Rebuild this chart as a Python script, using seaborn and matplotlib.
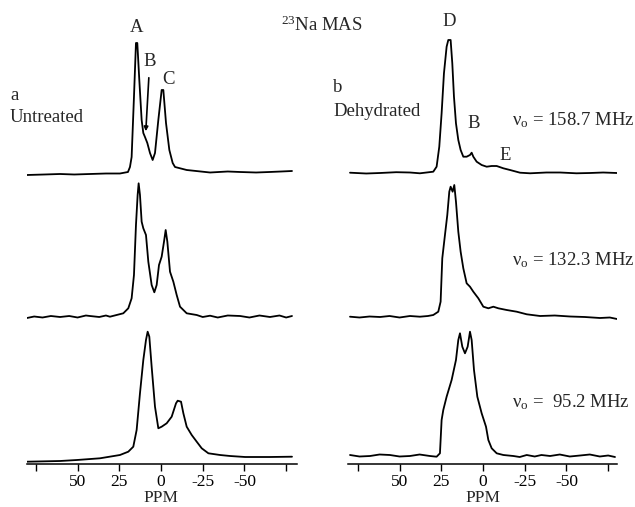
import matplotlib
matplotlib.use("Agg")
import matplotlib.pyplot as plt
import seaborn as sns
import pandas as pd

# ---------------- data (ppm, intensity above own baseline) ----------------
# Panel a (Untreated)
a158_ppm = [80.3, 70, 60.5, 52, 42.6, 33, 24.6, 19.8, 18.6, 17.6, 16.2, 15.0, 14.2, 13.0, 11.6, 10.6,
            9.6, 8.2, 6.6, 5.0, 3.6, 1.6, -0.4, -1.4, -3.0, -5.0, -7.0, -8.4, -15.4, -29.4, -40,
            -47.4, -57, -65, -72, -78.5]
a158_int = [-2, -1.5, -1, -1.5, -1, -0.5, -0.5, 1, 6, 16, 76, 130, 130, 93, 53, 40,
            36, 30, 20, 13, 20, 53, 83, 83, 50, 23, 10, 6, 3, 0.5, 1.5,
            1, 0.5, 1, 1.5, 2]

a132_ppm = [80.3, 76, 71, 66, 60.5, 55, 50, 45, 42.6, 37, 33, 30.6, 22.6, 19.6, 17.6, 16.2, 15.0, 14.0,
            13.4, 12.6, 11.6, 10.6, 9.0, 7.6, 5.6, 4.0, 2.6, 1.2, -0.4, -1.8, -2.8, -3.8, -5.4,
            -7.4, -9.4, -11.4, -15.4, -21.4, -25, -29.4, -34, -40, -47.4, -53, -59, -65.3, -71, -75, -78.5]
a132_int = [-1, 0.5, -0.5, 1, 0, 1, -0.5, 1.5, 1, 0, 1.5, 0.3, 3.7, 8.7, 18.7, 42, 92, 122,
            133.7, 122, 95.3, 88.7, 82, 55.3, 32, 24.7, 32, 52, 60.3, 75.3, 87, 75.3, 45.3,
            35.3, 22, 10.3, 3.7, 2, 0, 1.3, -0.5, 1.5, 1, -0.5, 1.5, 0, 1.5, -0.5, 1]

a95_ppm = [80.3, 60.5, 50.4, 36.6, 24.6, 19.6, 16.6, 14.6, 12.6, 10.6, 9.0, 8.0, 7.0, 5.6, 3.6,
           1.6, -0.4, -3.4, -6.4, -9.0, -10.0, -12.0, -13.4, -15.4, -18.4, -21.4, -24.4, -28.4,
           -35.4, -41.4, -50.4, -65.3, -78.5]
a95_int = [0.3, 1, 2, 3.7, 7, 10.3, 15.3, 32, 68.7, 102, 122, 130.3, 125.3, 95.3, 55.3,
           33.7, 35.3, 38.7, 45.3, 58.7, 61.3, 60.3, 48.7, 35.3, 27, 20.3, 13.7, 8.7,
           7, 6, 5, 5, 5.3]

# Panel b (Dehydrated)
b158_ppm = [79.7, 70, 61.7, 52, 43.8, 37.8, 29.8, 27.8, 26.2, 24.8, 23.4, 21.8, 20.8, 19.4, 18.4,
            17.4, 16.2, 14.8, 13.4, 11.8, 9.8, 7.8, 6.8, 5.8, 3.8, 0.8, -2.2, -5.2, -8.2, -12.2,
            -16.2, -22.2, -28.2, -38, -46.2, -56, -64.1, -72, -80.3]
b158_int = [0.3, -0.5, 0, 0.8, 0.5, -0.3, 1.3, 6.3, 26.3, 59.7, 99.7, 126.3, 133, 133, 109.7,
            76.3, 49.7, 33, 23, 16.3, 16.3, 18, 20.3, 16.3, 11.3, 8, 6.3, 7, 7, 4.7,
            3, 0.3, -0.3, 0.5, 0.5, -0.3, 0, 0.5, 0]

b132_ppm = [79.7, 74, 68, 61.7, 56, 50, 43.8, 37.8, 33, 29.8, 26.8, 25.4, 24.4, 22.8, 21.4, 20.2,
            19.4, 18.2, 17.2, 16.2, 14.8, 13.4, 11.8, 9.8, 7.8, 5.8, 2.8, -0.2, -3.2, -6.2,
            -9.2, -14.2, -20.2, -26.2, -34.2, -43, -52.2, -61, -70.1, -76, -80.3]
b132_int = [0.3, -0.5, 0.5, 0, 1, -0.5, 1, 0.3, 1, 2, 5.3, 15.3, 58.7, 82, 102, 125.3,
            130.3, 125.3, 132, 115.3, 85.3, 65.3, 48.7, 33.7, 30.3, 25.3, 18.7, 10.3, 8.7, 10.3,
            8.7, 7, 5.3, 2.7, 1, 1.5, 0.5, 0, -1, -0.5, -2]

b95_ppm = [79.7, 74, 67.7, 62, 55.8, 50, 43.8, 38, 31.8, 27.8, 25.8, 24.8, 23.8, 21.8, 18.8,
           16.2, 14.8, 13.8, 12.4, 10.8, 9.2, 7.8, 6.8, 5.4, 3.4, 0.8, -1.8, -3.2, -5.2, -8.2,
           -12.2, -18.2, -22, -26.2, -31, -35, -40.2, -46, -52, -58.2, -64, -70, -75, -79.1]
b95_int = [1, -0.5, 0, 1.5, 1, -0.5, 0, 1.5, 0, -0.7, 2.7, 36, 46, 59.3, 76,
           96, 116, 122.7, 109.3, 102.7, 109.3, 124.3, 116, 86, 59.3, 42.7, 29.3, 16, 7.7, 2.7,
           1, 0, -1, 1, -0.5, 1, 0, 1.5, -0.5, 0.5, 1.5, -0.5, 0.5, -1]

tick_values = [75, 50, 25, 0, -25, -50, -75]
tick_labels = ["", "50", "25", "0", "-25", "-50", ""]

freq_labels = [r"$\mathrm{\nu_o}$ = 158.7 MHz", r"$\mathrm{\nu_o}$ = 132.3 MHz", r"$\mathrm{\nu_o}$ =  95.2 MHz"]

# ---------------- styling ----------------
sns.set_theme(style="white")
plt.rcParams["font.family"] = ["Liberation Serif", "DejaVu Serif"]
plt.rcParams["mathtext.fontset"] = "custom"
plt.rcParams["mathtext.rm"] = "Liberation Serif"
plt.rcParams["mathtext.it"] = "Liberation Serif:italic"
FS = 13.5
TFS = 12.5

W, H = 635, 507
fig = plt.figure(figsize=(W / 100, H / 100), dpi=100)
fig.patch.set_facecolor("white")


def fx(x):
    return x / W


def fy(y):
    return 1 - y / H


def make_axes(left_px, width_px):
    ax = fig.add_axes([fx(left_px), 43 / H, width_px / W, 444 / H])
    ax.set_facecolor("none")
    return ax


def finish_axes(ax, xl, xr):
    ax.set_xlim(xl, xr)
    ax.set_ylim(0, 444)
    for s in ["top", "left", "right"]:
        ax.spines[s].set_visible(False)
    ax.spines["bottom"].set_color("black")
    ax.spines["bottom"].set_linewidth(1.1)
    ax.set_yticks([])
    ax.set_ylabel("")
    ax.set_xlabel("")
    ax.set_xticks(tick_values)
    ax.set_xticklabels(tick_labels, fontsize=TFS)
    ax.tick_params(axis="x", direction="out", length=5, width=1.0, color="black",
                   pad=2.5, labelcolor="black", bottom=True)


def draw(ax, ppm, inten, offset):
    df = pd.DataFrame({"ppm": ppm, "y": [v + offset for v in inten]})
    sns.lineplot(data=df, x="ppm", y="y", ax=ax, color="black", linewidth=1.3,
                 estimator=None, sort=False)


axL = make_axes(27, 270)
axR = make_axes(348, 269)

draw(axL, a158_ppm, a158_int, 291)
draw(axL, a132_ppm, a132_int, 147)
draw(axL, a95_ppm, a95_int, 2)
draw(axR, b158_ppm, b158_int, 291)
draw(axR, b132_ppm, b132_int, 147)
draw(axR, b95_ppm, b95_int, 8)

finish_axes(axL, 80.3, -81.5)
finish_axes(axR, 80.9, -80.3)

# axis titles
fig.text(fx(161), fy(497.5), "PPM", fontsize=TFS, ha="center", va="center")
fig.text(fx(483), fy(497.5), "PPM", fontsize=TFS, ha="center", va="center")

# peak labels (panel a)
axL.text(14.4, 437, "A", fontsize=FS, ha="center", va="center")
axL.text(6.6, 402, "B", fontsize=FS, ha="center", va="center")
axL.text(-4.2, 384, "C", fontsize=FS, ha="center", va="center")
axL.annotate("", xy=(9.2, 330), xytext=(7.2, 389),
             arrowprops=dict(arrowstyle="-|>", color="black", lw=1.2, mutation_scale=6))

# peak labels (panel b)
axR.text(20.0, 442, "D", fontsize=FS, ha="center", va="center", clip_on=False)
axR.text(5.5, 340, "B", fontsize=FS, ha="center", va="center")
axR.text(-13.2, 309, "E", fontsize=FS, ha="center", va="center")

# panel texts
fig.text(fx(10), fy(96), "a", fontsize=FS, ha="left", va="center")
fig.text(fx(10), fy(117), "Untreated", fontsize=FS, ha="left", va="center")
fig.text(fx(333), fy(88), "b", fontsize=FS, ha="left", va="center")
fig.text(fx(333), fy(112), "Dehydrated", fontsize=FS, ha="left", va="center")
fig.text(fx(322), fy(25), r"$^{23}$Na MAS", fontsize=FS, ha="center", va="center")

for lab, ypx in zip(freq_labels, [120, 260, 402]):
    fig.text(fx(512), fy(ypx), lab, fontsize=FS, ha="left", va="center")

fig.savefig("out.png", dpi=100, facecolor="white")
